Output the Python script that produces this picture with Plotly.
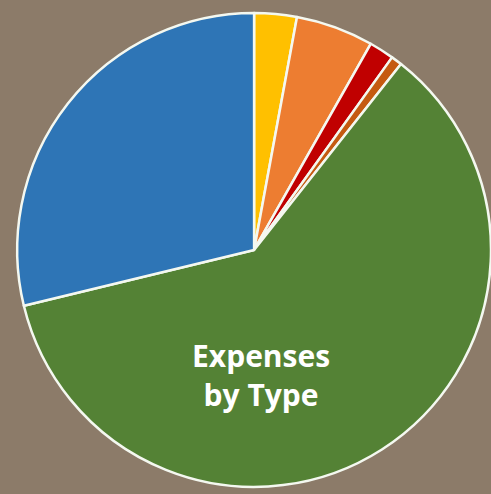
import plotly.graph_objects as go

categories = ["Supplies", "Travel", "Equipment", "Other", "Programs", "Personnel"]
values = [2.9, 5.3, 1.7, 0.75, 60.6, 28.8]
colors = ["#FFC000", "#ED7D31", "#C00000", "#C55A11", "#548235", "#2E75B6"]
title_lines = ["Expenses", "by Type"]

fig = go.Figure(go.Pie(
    labels=categories,
    values=values,
    sort=False,
    direction="clockwise",
    rotation=0,
    textinfo="none",
    hoverinfo="label+percent",
    marker=dict(colors=colors, line=dict(color="#F4F8F0", width=2.5)),
    domain=dict(x=[0.035, 1.0], y=[0.014, 0.974]),
    showlegend=False,
))

fig.add_annotation(
    text="<b>" + "<br>".join(title_lines) + "</b>",
    x=0.531, y=0.241, xref="paper", yref="paper",
    xanchor="center", yanchor="middle",
    showarrow=False,
    font=dict(family="Open Sans", size=30, color="white"),
    align="center",
)

fig.update_layout(
    width=491, height=494,
    margin=dict(l=0, r=0, t=0, b=0),
    paper_bgcolor="#8C7B69",
    plot_bgcolor="#8C7B69",
)

fig.write_html(
    "out.html",
    config={"displayModeBar": False},
    post_script="document.body.style.margin='0';document.body.style.background='#8C7B69';",
)
